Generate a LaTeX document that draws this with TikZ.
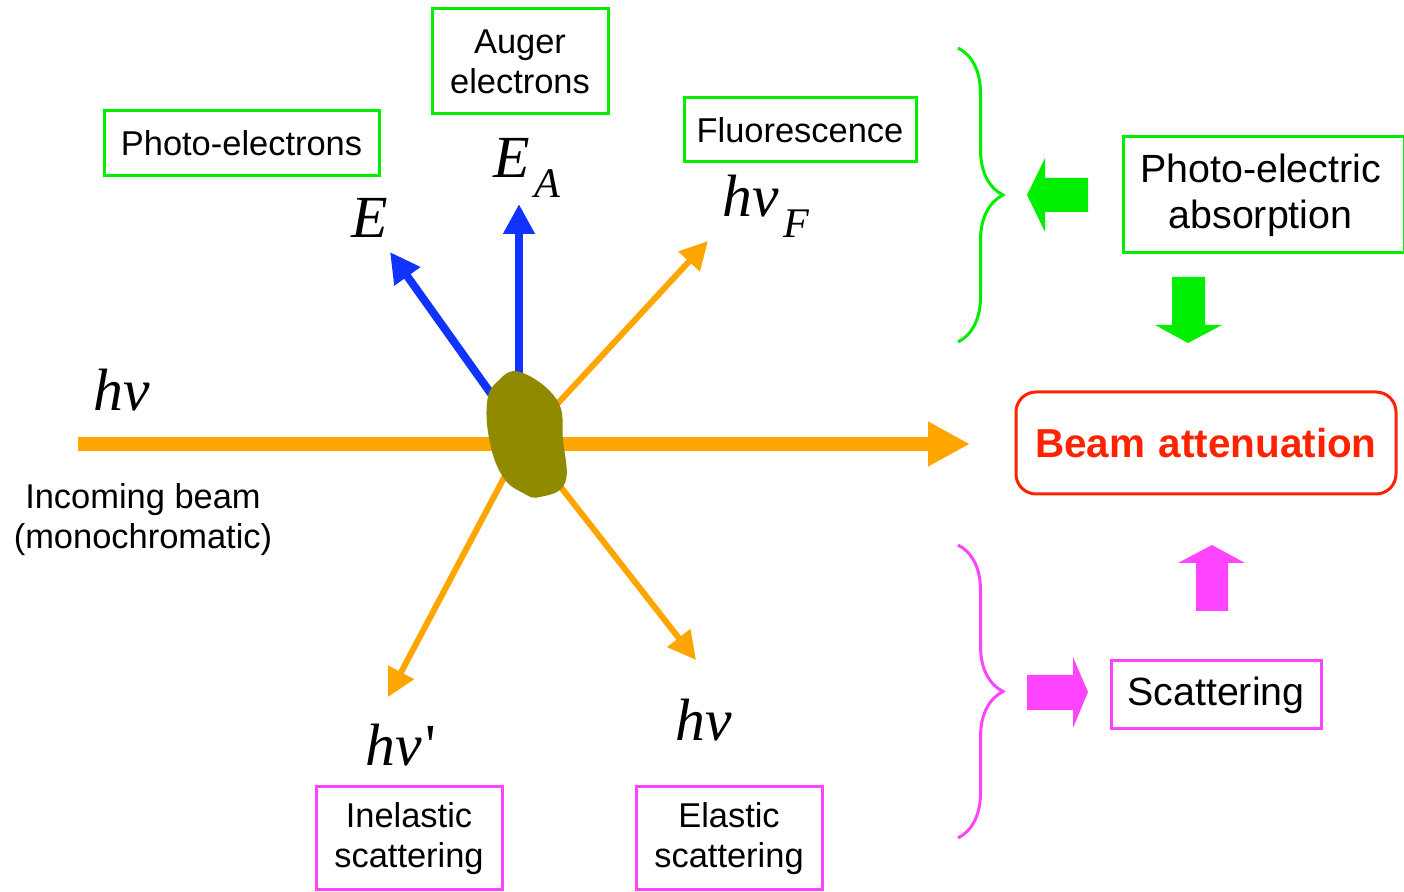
\documentclass[tikz,border=0pt]{standalone}
\usepackage{fontspec}
\setmainfont{Liberation Sans}
\newfontfamily\symfont{Liberation Serif}
\usepackage{xcolor}
\usetikzlibrary{arrows.meta,positioning,decorations.pathreplacing,calc}

\definecolor{beamorange}{HTML}{FFA500}
\definecolor{elblue}{HTML}{1133FF}
\definecolor{pegreen}{HTML}{00EE00}
\definecolor{scpink}{HTML}{FF44FF}
\definecolor{attred}{HTML}{FF2200}
\definecolor{sample}{HTML}{8F8A00}

\newcommand{\sym}[1]{{\symfont\itshape\fontsize{17}{20}\selectfont #1}}
\newcommand{\symsub}[1]{\kern0.08em\raisebox{-0.75ex}{\fontsize{12}{12}\selectfont #1}}

\begin{document}
\begin{tikzpicture}[x=0.1mm,y=-0.1mm,
  every node/.style={font=\fontsize{9.8}{11.4}\selectfont,inner sep=0pt,align=center},
  greenbox/.style={draw=pegreen,line width=0.3mm},
  pinkbox/.style={draw=scpink,line width=0.3mm},
  bigtext/.style={font=\fontsize{11.2}{13}\selectfont},
  mainbeam/.style={draw=beamorange,line width=1.4mm,-{Triangle[length=4.2mm,width=4.2mm]}},
  ray/.style={draw=beamorange,line width=0.6mm,-{Triangle[length=2.8mm,width=2.8mm]}},
  electron/.style={draw=elblue,line width=0.8mm,-{Triangle[length=3mm,width=3mm]}},
  bracket/.style={line width=0.3mm,decorate,decoration={brace,amplitude=4.5mm}}]
\useasboundingbox (0,0) rectangle (1404,892);

% sample and beams
\coordinate (blob) at (524,440);
\coordinate (src) at (78,444);
\coordinate (tout) at (970,444);
\coordinate (tE) at (390,252);
\coordinate (tEA) at (519,204);
\coordinate (tF) at (708,241);
\coordinate (tin) at (388,697);
\coordinate (tel) at (696,660);

\draw[mainbeam] (src) -- (tout);
\draw[electron] (blob) -- (tE);
\draw[electron] (tEA |- blob) -- (tEA);
\foreach \t in {tF,tin,tel}{
  \draw[ray] (blob) -- (\t);
}
\fill[sample] plot[smooth cycle,tension=0.7] coordinates {(520,372) (557,400) (563,440) (565,483) (540,497) (523,493) (503,477) (490,443) (487,403) (497,382)};

% symbols
\node (hin) at (122,390) {\sym{hν}};
\node (lE) at (370,218) {\sym{E}};
\node (lEA) at (527,168) {\sym{E\symsub{A}}};
\node (lF) at (766,206) {\sym{hν\symsub{F}}};
\node (lin) at (401,745) {\sym{hν\kern0.05em\upshape'}};
\node (lel) at (704,720) {\sym{hν}};

% labels
\node (inbeam) at (143,520) {Incoming beam\\(monochromatic)};
\node[greenbox,minimum width=27.5mm,minimum height=6.5mm] (photo) at (241.5,143.5) {Photo-electrons};
\node[greenbox,minimum width=17.6mm,minimum height=10.5mm] (auger) at (520,61.5) {Auger\\electrons};
\node[greenbox,minimum width=23.2mm,minimum height=6.4mm] (fluo) at (800,130) {Fluorescence};
\node[pinkbox,minimum width=18.6mm,minimum height=10.3mm] (inel) at (409,838.5) {Inelastic\\scattering};
\node[pinkbox,minimum width=18.6mm,minimum height=10.3mm] (elas) at (729,838.5) {Elastic\\scattering};

\node[greenbox,bigtext,minimum width=28.1mm,minimum height=11.6mm] (pea) at (1263.5,195) {\kern-0.6mm Photo-electric\\\kern-0.6mm absorption};
\node[draw=attred,line width=0.3mm,rounded corners=2mm,minimum width=38mm,minimum height=10.2mm,text=attred,font=\fontsize{11.5}{13}\selectfont\bfseries] (att) at (1206,443) {Beam\,\,attenuation};
\node[pinkbox,bigtext,minimum width=21mm,minimum height=6.8mm] (scat) at (1216,695) {Scattering};

% braces
\draw[bracket,draw=pegreen] (958,48) -- (958,342);
\draw[bracket,draw=scpink] (958,545) -- (958,838);

% block arrows
\fill[pegreen] (1088,178) -- (1045,178) -- (1045,158) -- (1027,195) -- (1045,232) -- (1045,212) -- (1088,212) -- cycle;
\fill[pegreen] (1172,277) -- (1172,325) -- (1155,325) -- (1188,343) -- (1222,325) -- (1205,325) -- (1205,277) -- cycle;
\fill[scpink] (1027,675) -- (1073,675) -- (1073,657) -- (1088,692) -- (1073,728) -- (1073,710) -- (1027,710) -- cycle;
\fill[scpink] (1196,611) -- (1196,563) -- (1178,563) -- (1212,545) -- (1245,563) -- (1228,563) -- (1228,611) -- cycle;
\end{tikzpicture}
\end{document}
